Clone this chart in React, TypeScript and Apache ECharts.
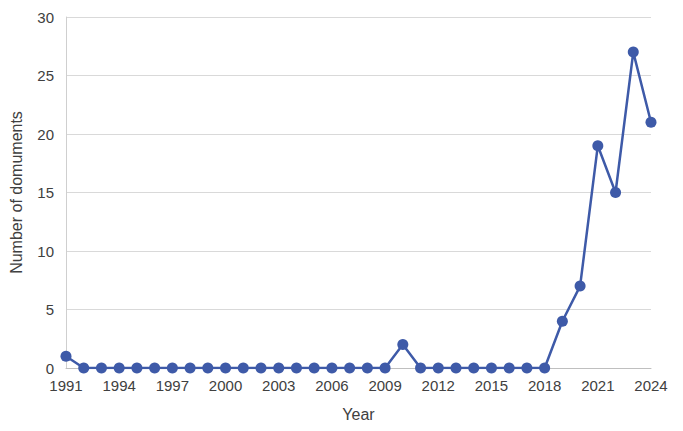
import React, { useEffect, useRef } from "react";
import * as echarts from "echarts";

const years: string[] = [];
for (let y = 1991; y <= 2024; y++) years.push(String(y));
const documents = [
  1, 0, 0, 0, 0, 0, 0, 0, 0, 0, 0, 0, 0, 0, 0, 0, 0, 0, 0,
  2, 0, 0, 0, 0, 0, 0, 0, 0,
  4, 7, 19, 15, 27, 21,
];
const yTicks = { min: 0, max: 30, interval: 5 };

export default function App() {
  const ref = useRef<HTMLDivElement>(null);
  useEffect(() => {
    if (!ref.current) return;
    const chart = echarts.init(ref.current, undefined, { renderer: "svg" });
    const font = "Liberation Sans, Arial, sans-serif";
    chart.setOption({
      animation: false,
      backgroundColor: "#ffffff",
      grid: { left: 66, right: 32, top: 17, bottom: 63 },
      xAxis: {
        type: "category",
        data: years,
        boundaryGap: false,
        name: "Year",
        nameLocation: "middle",
        nameGap: 38,
        nameTextStyle: { fontSize: 16, color: "#404040", fontFamily: font },
        axisLine: { show: true, lineStyle: { color: "#bfbfbf", width: 1 } },
        axisTick: { show: false },
        axisLabel: { interval: 2, fontSize: 15, color: "#404040", fontFamily: font, margin: 10 },
        splitLine: { show: false },
      },
      yAxis: {
        type: "value",
        min: yTicks.min,
        max: yTicks.max,
        interval: yTicks.interval,
        name: "Number of domuments",
        nameLocation: "middle",
        nameGap: 42,
        nameTextStyle: { fontSize: 16, color: "#404040", fontFamily: font },
        axisLine: { show: true, lineStyle: { color: "#cfcfcf", width: 1 } },
        axisTick: { show: false },
        axisLabel: { fontSize: 15, color: "#404040", fontFamily: font, margin: 12 },
        splitLine: { show: true, lineStyle: { color: "#d9d9d9", width: 1 } },
      },
      series: [
        {
          type: "line",
          data: documents,
          symbol: "circle",
          symbolSize: 11,
          lineStyle: { color: "#3e5aa8", width: 2.5 },
          itemStyle: { color: "#3e5aa8" },
        },
      ],
    });
    return () => chart.dispose();
  }, []);
  return <div ref={ref} style={{ width: 683, height: 431, position: "absolute", left: 0, top: 0 }} />;
}
